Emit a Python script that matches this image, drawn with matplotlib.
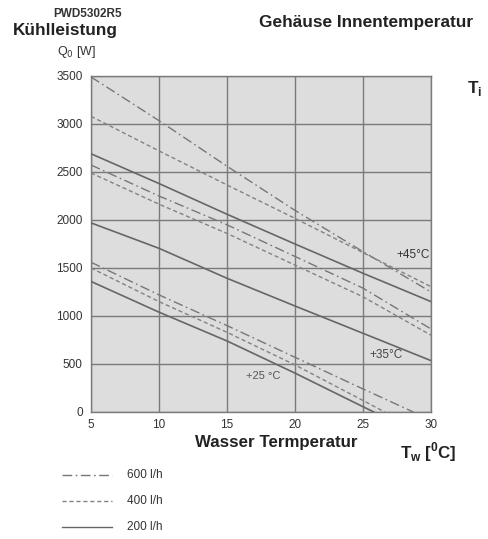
import matplotlib
matplotlib.use("Agg")
import matplotlib.pyplot as plt
from matplotlib.lines import Line2D

plt.rcParams['font.family'] = ['Liberation Sans', 'DejaVu Sans']

# ---- data ----
water_temp = [5, 10, 15, 20, 25, 30]

q_45_600 = [3490, 3035, 2560, 2100, 1670, 1250]
q_45_400 = [3080, 2720, 2365, 2017, 1660, 1305]
q_45_200 = [2690, 2380, 2060, 1750, 1445, 1150]

q_35_600 = [2573, 2250, 1950, 1620, 1290, 865]
q_35_400 = [2490, 2165, 1860, 1530, 1200, 800]
q_35_200 = [1970, 1705, 1393, 1104, 820, 535]

t_25_600 = [5, 10, 15, 20, 25, 28.7]
q_25_600 = [1560, 1220, 900, 570, 240, 0]
t_25_400 = [5, 10, 15, 20, 25, 26.6]
q_25_400 = [1500, 1150, 830, 490, 120, 0]
t_25_200 = [5, 10, 15, 20, 25, 25.8]
q_25_200 = [1360, 1040, 740, 405, 55, 0]

x_ticks = [5, 10, 15, 20, 25, 30]
y_ticks = [0, 500, 1000, 1500, 2000, 2500, 3000, 3500]
legend_labels = ['600 l/h', '400 l/h', '200 l/h']
temp_labels = ['+45°C', '+35°C', '+25 °C']

# ---- styles ----
dashdot = (0, (7, 2.5, 1.2, 2.5))
dashed = (0, (3, 2))
c_solid = '#666666'
c_dd = '#777777'
c_da = '#828282'

fig = plt.figure(figsize=(4.88, 5.39), dpi=100)
ax = fig.add_axes([91/488, 1-412/539, 340/488, 336/539])
ax.set_facecolor('#dddddd')

for t, q, ls, c, lw in [
    (water_temp, q_45_600, dashdot, c_dd, 1.0),
    (water_temp, q_45_400, dashed, c_da, 1.0),
    (water_temp, q_45_200, '-', c_solid, 1.2),
    (water_temp, q_35_600, dashdot, c_dd, 1.0),
    (water_temp, q_35_400, dashed, c_da, 1.0),
    (water_temp, q_35_200, '-', c_solid, 1.2),
    (t_25_600, q_25_600, dashdot, c_dd, 1.0),
    (t_25_400, q_25_400, dashed, c_da, 1.0),
    (t_25_200, q_25_200, '-', c_solid, 1.2),
]:
    ax.plot(t, q, linestyle=ls, color=c, lw=lw, zorder=3)

ax.set_xlim(5, 30)
ax.set_ylim(0, 3500)
ax.set_xticks(x_ticks)
ax.set_yticks(y_ticks)
ax.grid(True, color='#7a7a7a', lw=1.0, zorder=1)
ax.set_axisbelow(True)
for s in ax.spines.values():
    s.set_color('#7a7a7a')
    s.set_linewidth(1.0)
ax.tick_params(length=0, labelsize=8.5, colors='#333333', pad=6)
ax.tick_params(axis='x', pad=5)

# temperature labels
ax.text(29.9, 1635, temp_labels[0], ha='right', va='center', fontsize=8.5, color='#333333', zorder=4)
ax.text(27.9, 594, temp_labels[1], ha='right', va='center', fontsize=8.5, color='#444444', zorder=4)
ax.text(18.9, 375, temp_labels[2], ha='right', va='center', fontsize=8, color='#555555', zorder=4)

# titles
nar = ['Liberation Sans', 'DejaVu Sans']
fig.text(53/488, 1-14/539, 'PWD5302R5', fontsize=8.5, fontweight='bold', color='#333333', va='center', ha='left')
fig.text(13/488, 1-31/539, 'Kühlleistung', fontsize=12.4, fontweight='bold', family=nar, color='#222222', va='center', ha='left')
fig.text(259/488, 1-22/539, 'Gehäuse Innentemperatur', fontsize=12.4, fontweight='bold', family=nar, color='#222222', va='center', ha='left')
fig.text(57/488, 1-52/539, r'Q$_0$ [W]', fontsize=9, color='#333333', va='center', ha='left')
fig.text(467/488, 1-88/539, r'T$_\mathregular{i}$', fontsize=12.4, fontweight='bold', family=nar, color='#222222', va='center', ha='left')
fig.text(195/488, 1-442/539, 'Wasser Termperatur', fontsize=12.2, fontweight='bold', family=nar, color='#222222', va='center', ha='left')
fig.text(400/488, 1-452/539, r'T$_\mathregular{w}$ [$^\mathregular{0}$C]', fontsize=12.2, fontweight='bold', family=nar, color='#222222', va='center', ha='left')

# legend (drawn manually)
for i, (lab, ls, c) in enumerate(zip(legend_labels, [dashdot, dashed, '-'], [c_dd, c_da, c_solid])):
    yy = 1 - (475 + 26*i)/539
    fig.add_artist(Line2D([62/488, 112/488], [yy, yy], linestyle=ls, color=c, lw=1.0))
    fig.text(127/488, yy, lab, fontsize=8.5, color='#333333', va='center', ha='left')

fig.savefig('out.png', dpi=100, facecolor='white')
